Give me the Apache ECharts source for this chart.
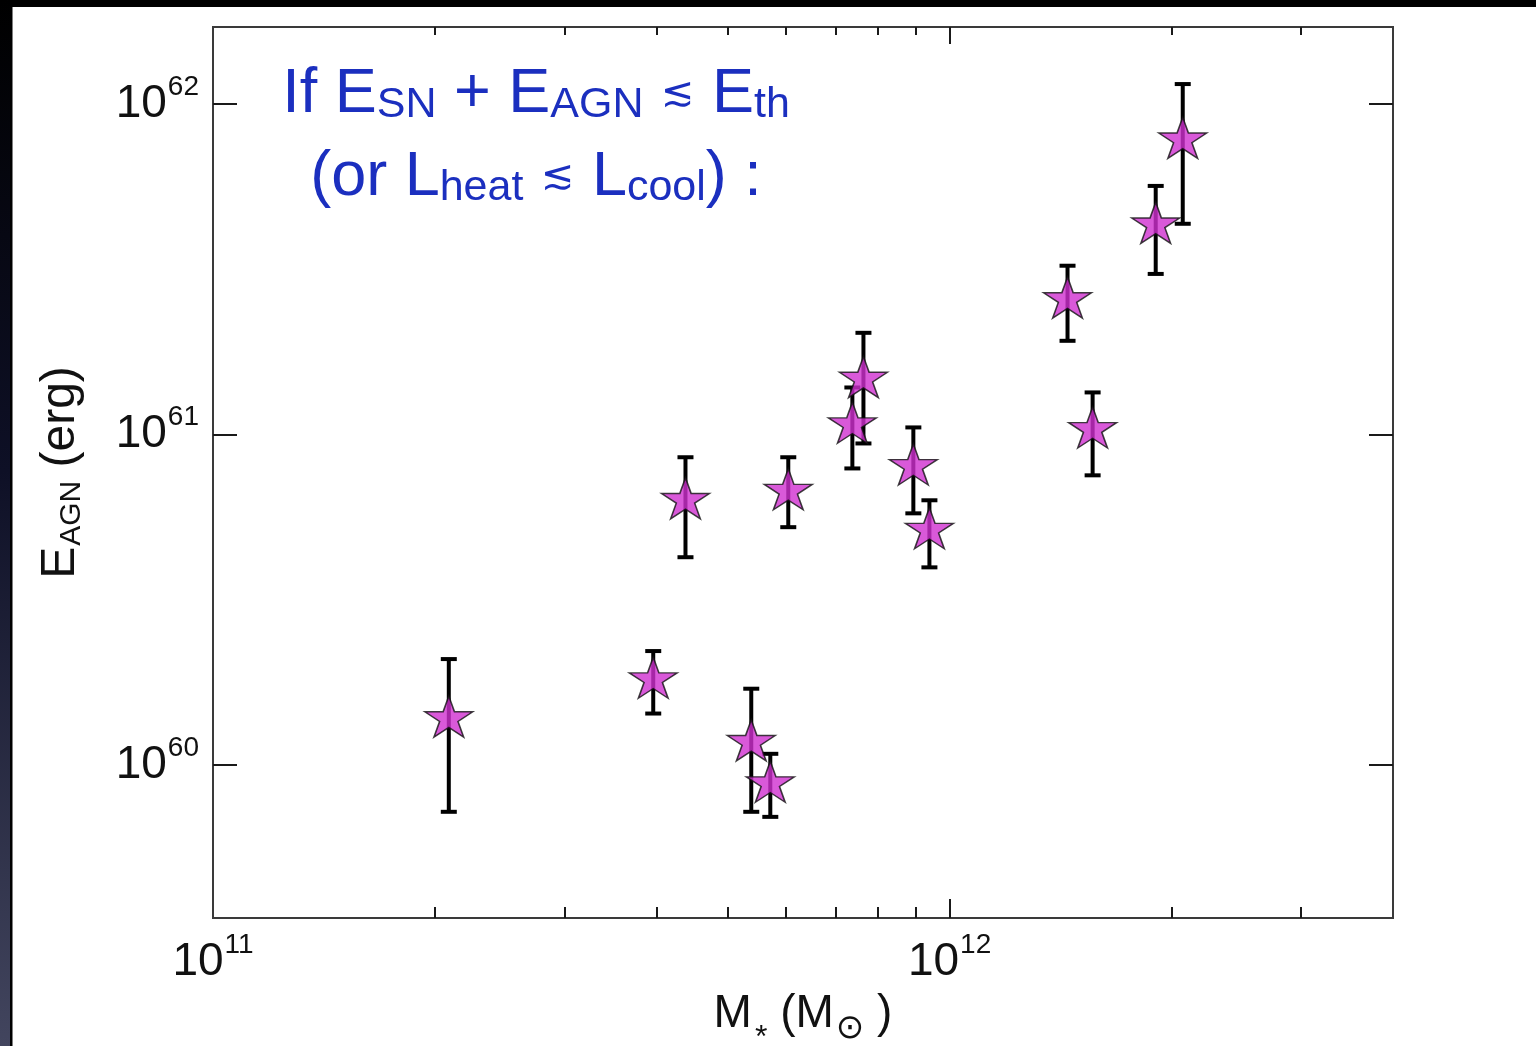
<!DOCTYPE html>
<html>
<head>
<meta charset="utf-8">
<script src="https://cdn.jsdelivr.net/npm/echarts@6/dist/echarts.min.js"></script>
<style>
  html, body { margin: 0; padding: 0; background: #fff; }
  #chart { width: 1536px; height: 1046px; }
</style>
</head>
<body>
<div id="chart"></div>
<script>
// stellar mass M* (M_sun) and AGN energy (erg)
const mass = [2.09e11, 3.96e11, 4.38e11, 5.38e11, 5.71e11, 6.04e11, 7.38e11, 7.64e11, 8.93e11, 9.39e11, 1.446e12, 1.564e12, 1.905e12, 2.073e12];
const eAgn = [1.38e60, 1.81e60, 6.32e60, 1.17e60, 8.77e59, 6.73e60, 1.07e61, 1.47e61, 8.0e60, 5.13e60, 2.56e61, 1.035e61, 4.31e61, 7.79e61];
const eLow = [7.21e59, 1.43e60, 4.25e60, 7.21e59, 6.96e59, 5.24e60, 7.89e60, 9.39e60, 5.77e60, 3.96e60, 1.92e61, 7.52e60, 3.06e61, 4.34e61];
const eHigh = [2.09e60, 2.21e60, 8.53e60, 1.70e60, 1.08e60, 8.53e60, 1.387e61, 2.03e61, 1.05e61, 6.32e60, 3.24e61, 1.34e61, 5.65e61, 1.149e62];

const xMajorTicks = [1e11, 1e12];
const xMinorTicks = [2e11, 3e11, 4e11, 5e11, 6e11, 7e11, 8e11, 9e11, 2e12, 3e12];
const yMajorTicks = [1e60, 1e61, 1e62];

const FONT = "'Liberation Sans', Arial, 'DejaVu Sans', sans-serif";
const BLUE = '#1b2fbf';
const STAR = 'path://M50,0L61.23,34.55L97.55,34.55L68.17,55.9L79.39,90.45L50,69.1L20.61,90.45L31.83,55.9L2.45,34.55L38.77,34.55Z';

const chart = echarts.init(document.getElementById('chart'));

const tickStyle = {color: '#1a1a1a', width: 2};
// "10" with a raised exponent
const powRich = {
  b: {fontSize: 46, lineHeight: 78, padding: [16, 0, 0, 0], verticalAlign: 'top', fontFamily: FONT, color: '#111'},
  s: {fontSize: 28, lineHeight: 30, padding: [8, 0, 0, 1], verticalAlign: 'top', fontFamily: FONT, color: '#111'}
};
const powFormatter = function (v) {
  return '{b|10}{s|' + Math.round(Math.log10(v)) + '}';
};

function tickAxis(position, ticks, len) {
  return {
    type: 'log', logBase: 10, min: 1e11, max: 4e12, position: position,
    axisLine: {show: false}, splitLine: {show: false}, minorTick: {show: false},
    axisTick: {inside: true, length: len, customValues: ticks, lineStyle: tickStyle},
    axisLabel: {show: false}
  };
}

const xMain = tickAxis('bottom', [1e12], 19);
xMain.axisLabel = {show: true, customValues: xMajorTicks, formatter: powFormatter, rich: powRich, margin: 5};
xMain.name = '{m|M}{st|*}{m| (M}{sun|\u2299}{m| )}';
xMain.nameLocation = 'middle';
xMain.nameGap = 73;
xMain.nameMoveOverlap = false;
xMain.nameTextStyle = {
  rich: {
    m: {fontSize: 46, lineHeight: 46, verticalAlign: 'top', fontFamily: FONT, color: '#111'},
    st: {fontSize: 32, lineHeight: 32, padding: [31, 0, 0, 3], verticalAlign: 'top', fontFamily: FONT, color: '#111'},
    sun: {fontSize: 34, lineHeight: 34, padding: [21, 0, 0, 2], verticalAlign: 'top', fontFamily: "'DejaVu Sans', sans-serif", color: '#111'}
  }
};

function yTickAxis(position) {
  return {
    type: 'log', logBase: 10, min: 3.44e59, max: 1.71e62, position: position,
    axisLine: {show: false}, splitLine: {show: false}, minorTick: {show: false},
    axisTick: {inside: true, length: 24, customValues: yMajorTicks, lineStyle: tickStyle},
    axisLabel: {show: false}
  };
}
const yMain = yTickAxis('left');
yMain.axisLabel = {show: true, customValues: yMajorTicks, formatter: powFormatter, rich: powRich, margin: 14};
yMain.name = '{e|E}{sub|AGN}{e| (erg)}';
yMain.nameLocation = 'middle';
yMain.nameRotate = 90;
yMain.nameGap = 128;
yMain.nameMoveOverlap = false;
yMain.nameTextStyle = {
  rich: {
    e: {fontSize: 48, lineHeight: 48, verticalAlign: 'top', fontFamily: FONT, color: '#111'},
    sub: {fontSize: 30, lineHeight: 30, padding: [20, 0, 0, 1], verticalAlign: 'top', fontFamily: FONT, color: '#111'}
  }
};

const annRich = {
  b: {fontSize: 63, lineHeight: 64, fontFamily: FONT, fill: BLUE},
  s: {fontSize: 43, lineHeight: 44, verticalAlign: 'bottom', fontFamily: FONT, fill: BLUE},
  o: {fontSize: 40, lineHeight: 44, fontFamily: "'DejaVu Sans', sans-serif", fill: BLUE}
};

const option = {
  backgroundColor: '#fff',
  animation: false,
  grid: {
    left: 213, top: 27, right: 143, bottom: 128,
    show: true, borderColor: '#3a3a3a', borderWidth: 2,
    outerBoundsMode: 'none'
  },
  xAxis: [
    xMain,
    tickAxis('bottom', xMinorTicks, 11),
    tickAxis('top', [1e12], 17),
    tickAxis('top', xMinorTicks, 8)
  ],
  yAxis: [yMain, yTickAxis('right')],
  graphic: [
    {type: 'rect', z: 100, shape: {x: 0, y: 0, width: 1536, height: 7}, style: {fill: '#000'}},
    {
      type: 'rect', z: 100, shape: {x: 0, y: 0, width: 10, height: 1046},
      style: {
        fill: new echarts.graphic.LinearGradient(0, 0, 0, 1, [
          {offset: 0, color: '#000000'},
          {offset: 0.45, color: '#0e1026'},
          {offset: 1, color: '#42455e'}
        ])
      }
    },
    {type: 'rect', z: 100, shape: {x: 10, y: 0, width: 2.5, height: 1046}, style: {fill: '#000'}},
    {
      type: 'text', z: 100, x: 536, y: 95,
      style: {
        text: '{b|If E}{s|SN}{b| + E}{s|AGN}{b| }{o|\u2272}{b| E}{s|th}',
        rich: annRich, align: 'center', verticalAlign: 'middle'
      }
    },
    {
      type: 'text', z: 100, x: 536, y: 178,
      style: {
        text: '{b|(or L}{s|heat}{b| }{o|\u2272}{b| L}{s|cool}{b|) :}',
        rich: annRich, align: 'center', verticalAlign: 'middle'
      }
    }
  ],
  series: [
    {
      type: 'custom',
      xAxisIndex: 0, yAxisIndex: 0,
      z: 2,
      data: mass.map((m, i) => [m, eLow[i], eHigh[i]]),
      encode: {x: 0, y: [1, 2]},
      renderItem: function (params, api) {
        const lo = api.coord([api.value(0), api.value(1)]);
        const hi = api.coord([api.value(0), api.value(2)]);
        const cap = 8;
        const st = {stroke: '#000', lineWidth: 4};
        return {
          type: 'group',
          children: [
            {type: 'line', shape: {x1: lo[0], y1: lo[1], x2: hi[0], y2: hi[1]}, style: st},
            {type: 'line', shape: {x1: lo[0] - cap, y1: lo[1], x2: lo[0] + cap, y2: lo[1]}, style: st},
            {type: 'line', shape: {x1: hi[0] - cap, y1: hi[1], x2: hi[0] + cap, y2: hi[1]}, style: st}
          ]
        };
      }
    },
    {
      type: 'scatter',
      xAxisIndex: 0, yAxisIndex: 0,
      z: 3,
      symbol: STAR,
      symbolSize: [48, 41],
      symbolKeepAspect: false,
      symbolOffset: [0, -2],
      itemStyle: {color: '#d030d0', borderColor: '#111', borderWidth: 1.5},
      data: mass.map((m, i) => [m, eAgn[i]])
    }
  ]
};

chart.setOption(option);
</script>
</body>
</html>
